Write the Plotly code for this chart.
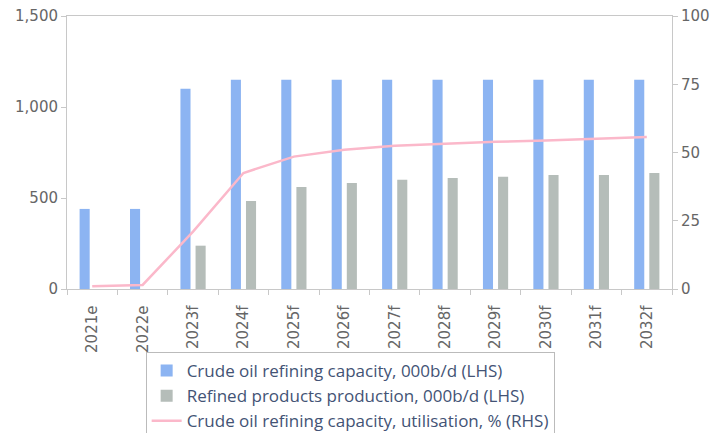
import plotly.graph_objects as go

categories = ["2021e", "2022e", "2023f", "2024f", "2025f", "2026f", "2027f",
              "2028f", "2029f", "2030f", "2031f", "2032f"]
capacity = [440, 440, 1100, 1150, 1150, 1150, 1150, 1150, 1150, 1150, 1150, 1150]
production = [None, None, 238, 483, 560, 582, 600, 610, 617, 626, 627, 637]
utilisation = [1.0, 1.5, 21.0, 42.5, 48.5, 51.0, 52.5, 53.3, 53.9, 54.4, 55.1, 55.7]

names = ["Crude oil refining capacity, 000b/d (LHS)",
         "Refined products production, 000b/d (LHS)",
         "Crude oil refining capacity, utilisation, % (RHS)"]

fig = go.Figure()
fig.add_trace(go.Bar(x=categories, y=capacity, name=names[0], marker_color="#8cb4f2",
                     width=0.2, offset=-0.25, marker_line_width=0))
fig.add_trace(go.Bar(x=categories, y=production, name=names[1], marker_color="#b5bdb9",
                     width=0.2, offset=0.05, marker_line_width=0))
fig.add_trace(go.Scatter(x=categories, y=utilisation, name=names[2], mode="lines",
                         line=dict(color="#fbb8ca", width=2.5), yaxis="y2"))

axis_col = "#c8c8c8"
tick_font = dict(family="DejaVu Sans", size=15, color="#666666")

fig.update_layout(
    width=713, height=433,
    margin=dict(l=67, r=41, t=16, b=144, autoexpand=False),
    paper_bgcolor="white", plot_bgcolor="white",
    barmode="overlay",
    showlegend=True,
    xaxis=dict(type="category", showgrid=False, showline=True, linecolor=axis_col,
               mirror=True, ticks="outside", tickson="boundaries", ticklen=5,
               tickcolor=axis_col, tickangle=-90, tickfont=tick_font,
               ticksuffix="\u00a0\u00a0", automargin=False),
    yaxis=dict(range=[0, 1500], tickvals=[0, 500, 1000, 1500], ticktext=["0", "500", "1,000", "1,500"],
               showgrid=False, showline=True, linecolor=axis_col, ticks="outside",
               ticklen=5, tickcolor=axis_col, tickfont=tick_font, zeroline=False,
               automargin=False),
    yaxis2=dict(range=[0, 100], tickvals=[0, 25, 50, 75, 100], overlaying="y", side="right",
                showgrid=False, showline=True, linecolor=axis_col, ticks="outside",
                ticklen=5, tickcolor=axis_col, tickfont=tick_font, zeroline=False,
                automargin=False),
    legend=dict(x=0.13, y=-0.231, xanchor="left", yanchor="top",
                bordercolor="#bbbbbb", borderwidth=1, bgcolor="white",
                font=dict(family="Open Sans", size=17, color="#435375"),
                tracegroupgap=0, itemwidth=30),
)

fig.write_html("out.html")
